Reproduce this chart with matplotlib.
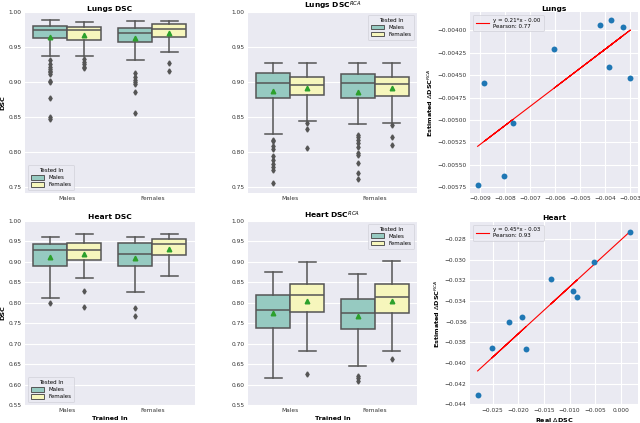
import matplotlib
matplotlib.use("Agg")
import matplotlib.pyplot as plt
import numpy as np
from matplotlib.patches import Patch
from matplotlib.ticker import MultipleLocator

# ---------------- data ----------------
trained_in = ["Males", "Females"]
tested_in = ["Males", "Females"]
# order of boxes: (trained M, tested M), (trained M, tested F), (trained F, tested M), (trained F, tested F)

# Lungs DSC
lungs_whislo = [0.9376, 0.9376, 0.9315, 0.9430]
lungs_q1 = [0.9627, 0.9600, 0.9580, 0.9650]
lungs_med = [0.9740, 0.9740, 0.9707, 0.9754]
lungs_q3 = [0.9802, 0.9790, 0.9778, 0.9825]
lungs_whishi = [0.9887, 0.9863, 0.9870, 0.9880]
lungs_mean = [0.9646, 0.9680, 0.9630, 0.9707]
lungs_fliers = [
    [0.932, 0.926, 0.922, 0.919, 0.916, 0.914, 0.912, 0.902, 0.900, 0.878, 0.851, 0.848],
    [0.933, 0.929, 0.926, 0.922, 0.921],
    [0.9126, 0.908, 0.9036, 0.9008, 0.8975, 0.8857, 0.8563],
    [0.9282, 0.9164],
]

# Lungs DSC^RCA
lungs_rca_whislo = [0.8266, 0.8445, 0.8407, 0.8417]
lungs_rca_q1 = [0.8776, 0.8814, 0.8770, 0.8804]
lungs_rca_med = [0.8989, 0.8960, 0.8993, 0.8980]
lungs_rca_q3 = [0.9126, 0.9074, 0.9116, 0.9070]
lungs_rca_whishi = [0.9280, 0.9280, 0.9280, 0.9280]
lungs_rca_mean = [0.8880, 0.8913, 0.8866, 0.8918]
lungs_rca_fliers = [
    [0.818, 0.8157, 0.809, 0.8044, 0.795, 0.7888, 0.783, 0.7793, 0.7746, 0.757],
    [0.842, 0.8327, 0.806],
    [0.825, 0.8218, 0.817, 0.8133, 0.8077, 0.7996, 0.7968, 0.785, 0.7708, 0.7618],
    [0.8384, 0.8218, 0.810],
]

# Heart DSC
heart_whislo = [0.8125, 0.8598, 0.8255, 0.8663]
heart_q1 = [0.8908, 0.9046, 0.8900, 0.9168]
heart_med = [0.9290, 0.9290, 0.9193, 0.9437]
heart_q3 = [0.9437, 0.9470, 0.9454, 0.9552]
heart_whishi = [0.9617, 0.9674, 0.9617, 0.9674]
heart_mean = [0.9128, 0.9193, 0.9103, 0.9323]
heart_fliers = [
    [0.8003],
    [0.8288, 0.7905],
    [0.7864, 0.7685],
    [],
]

# Heart DSC^RCA
heart_rca_whislo = [0.6169, 0.6821, 0.6454, 0.6829]
heart_rca_q1 = [0.7375, 0.7766, 0.7359, 0.7758]
heart_rca_med = [0.7823, 0.8190, 0.7742, 0.8133]
heart_rca_q3 = [0.8190, 0.8451, 0.8084, 0.8451]
heart_rca_whishi = [0.8761, 0.9005, 0.8704, 0.9022]
heart_rca_mean = [0.7742, 0.8044, 0.7677, 0.8052]
heart_rca_fliers = [
    [],
    [0.6258],
    [0.6218, 0.6152, 0.6095],
    [0.6617],
]

# Scatter: Real vs Estimated delta DSC
lungs_real = [-0.003743, -0.004206, -0.003269, -0.006036, -0.003838,
              -0.002980, -0.008842, -0.007696, -0.008040, -0.009107]
lungs_est = [-0.00389, -0.00394, -0.00396, -0.004206, -0.004404,
             -0.004529, -0.004587, -0.005028, -0.005619, -0.005722]
heart_real = [0.00187, -0.00525, -0.01371, -0.00935, -0.00852,
              -0.01935, -0.02173, -0.02519, -0.01852, -0.02794]
heart_est = [-0.02733, -0.03020, -0.03184, -0.03300, -0.03361,
             -0.03558, -0.03600, -0.03858, -0.03868, -0.04316]
heart_est_limits = [-0.04408, -0.02633]

# ---------------- style ----------------
BG = "#EAEAF2"
EDGE = "#555555"
C_MALE = "#96cac1"
C_FEM = "#f6f6bc"
FS_TICK = 4.2
FS_LEG = 4.0
FS_LAB = 4.6
FS_TITLE = 5.4

plt.rcParams["font.family"] = ["DejaVu Sans"]

fig = plt.figure(figsize=(6.4, 4.23), dpi=100)


def style_ax(ax):
    ax.set_facecolor(BG)
    for s in ax.spines.values():
        s.set_visible(False)
    ax.set_axisbelow(True)
    ax.grid(True, color="white", linewidth=0.8)
    ax.tick_params(length=0, labelsize=FS_TICK, colors="#333333", pad=2.5)


def box_panel(rect, whislo, q1, med, q3, whishi, mean, fliers, title,
              ylim, ystep, legend_loc, xlabel=None, ylabel=None):
    ax = fig.add_axes(rect)
    style_ax(ax)
    ax.xaxis.grid(False)
    stats = []
    for i in range(4):
        stats.append(dict(whislo=whislo[i], q1=q1[i], med=med[i], q3=q3[i],
                          whishi=whishi[i], mean=mean[i],
                          fliers=np.array(fliers[i], dtype=float)))
    positions = [-0.2, 0.2, 0.8, 1.2]
    bp = ax.bxp(stats, positions=positions, widths=0.4, patch_artist=True,
                showmeans=True,
                boxprops=dict(linewidth=1.1, edgecolor=EDGE),
                medianprops=dict(color=EDGE, linewidth=1.1),
                whiskerprops=dict(color=EDGE, linewidth=1.1),
                capprops=dict(color=EDGE, linewidth=1.1),
                flierprops=dict(marker="d", markerfacecolor=EDGE,
                                markeredgecolor=EDGE, markersize=2.6),
                meanprops=dict(marker="^", markerfacecolor="#2ca02c",
                               markeredgecolor="#2ca02c", markersize=3.3))
    for i, patch in enumerate(bp["boxes"]):
        patch.set_facecolor(C_MALE if i % 2 == 0 else C_FEM)
    ax.set_xticks([0, 1])
    ax.set_xticklabels(trained_in)
    ax.set_xlim(-0.5, 1.5)
    ax.set_ylim(*ylim)
    ax.yaxis.set_major_locator(MultipleLocator(ystep))
    ax.yaxis.set_major_formatter(matplotlib.ticker.FormatStrFormatter("%.2f"))
    ax.set_title(title, fontsize=FS_TITLE, fontweight="bold", pad=1.2)
    if xlabel:
        ax.set_xlabel(xlabel, fontsize=FS_LAB, fontweight="bold", labelpad=2)
    if ylabel:
        ax.set_ylabel(ylabel, fontsize=FS_LAB, fontweight="bold", labelpad=2)
    handles = [Patch(facecolor=C_MALE, edgecolor=EDGE, linewidth=0.7, label=tested_in[0]),
               Patch(facecolor=C_FEM, edgecolor=EDGE, linewidth=0.7, label=tested_in[1])]
    leg = ax.legend(handles=handles, title="Tested In", loc=legend_loc,
                    fontsize=FS_LEG, title_fontsize=FS_LEG, frameon=True,
                    handlelength=2.4, handleheight=0.9, borderpad=0.5,
                    labelspacing=0.35)
    leg.get_frame().set_facecolor(BG)
    leg.get_frame().set_edgecolor("#d0d0d8")
    leg.get_frame().set_linewidth(0.6)
    return ax


def scatter_panel(rect, x, y, title, ystep, xstep, yfmt, xlabel=None, ylim=None):
    ax = fig.add_axes(rect)
    style_ax(ax)
    x = np.asarray(x)
    y = np.asarray(y)
    ax.scatter(x, y, s=18, color="#1f77b4", zorder=3, linewidths=0)
    m, b = np.polyfit(x, y, 1)
    r = np.corrcoef(x, y)[0, 1]
    sign = "-" if b < 0 else "+"
    ax.plot(x, m * x + b, color="red", linewidth=0.8, zorder=2,
            label=f"y = {m:.2f}*x {sign} {abs(b):.2f}\nPearson: {r:.2f}")
    ax.yaxis.set_major_locator(MultipleLocator(ystep))
    ax.xaxis.set_major_locator(MultipleLocator(xstep))
    ax.yaxis.set_major_formatter(matplotlib.ticker.StrMethodFormatter(yfmt))
    if ylim is not None:
        ax.set_ylim(*ylim)
    ax.set_title(title, fontsize=FS_TITLE, fontweight="bold", pad=1.2)
    ax.set_ylabel("Estimated $\\Delta$DSC$^{RCA}$", fontsize=FS_LAB,
                  fontweight="bold", labelpad=2)
    if xlabel:
        ax.set_xlabel(xlabel, fontsize=FS_LAB, fontweight="bold", labelpad=2)
    leg = ax.legend(loc="upper left", fontsize=FS_LEG, frameon=True,
                    handlelength=2.4, borderpad=0.5)
    leg.get_frame().set_facecolor(BG)
    leg.get_frame().set_edgecolor("#d0d0d8")
    leg.get_frame().set_linewidth(0.6)
    return ax


TOP_B = 0.5437
TOP_H = 0.4275

box_panel([0.039, TOP_B, 0.2656, TOP_H], lungs_whislo, lungs_q1, lungs_med,
          lungs_q3, lungs_whishi, lungs_mean, lungs_fliers, "Lungs DSC",
          (0.742, 1.0), 0.05, "lower left", ylabel="DSC")
box_panel([0.3875, TOP_B, 0.2641, TOP_H], lungs_rca_whislo, lungs_rca_q1,
          lungs_rca_med, lungs_rca_q3, lungs_rca_whishi, lungs_rca_mean,
          lungs_rca_fliers, "Lungs DSC$^{RCA}$", (0.742, 1.0), 0.05, "upper right")
box_panel([0.039, 0.0426, 0.2656, 0.435], heart_whislo, heart_q1, heart_med,
          heart_q3, heart_whishi, heart_mean, heart_fliers, "Heart DSC",
          (0.55, 1.0), 0.05, "lower left", xlabel="Trained In", ylabel="DSC")
box_panel([0.3875, 0.0426, 0.2641, 0.435], heart_rca_whislo, heart_rca_q1,
          heart_rca_med, heart_rca_q3, heart_rca_whishi, heart_rca_mean,
          heart_rca_fliers, "Heart DSC$^{RCA}$", (0.55, 1.0), 0.05,
          "upper right", xlabel="Trained In")

scatter_panel([0.7344, TOP_B, 0.2625, TOP_H], lungs_real, lungs_est, "Lungs",
              0.00025, 0.001, "{x:.5f}")
scatter_panel([0.7344, 0.0426, 0.2625, 0.433], heart_real, heart_est, "Heart",
              0.002, 0.005, "{x:.3f}", xlabel="Real $\\Delta$DSC",
              ylim=heart_est_limits)

fig.savefig("out.png", dpi=100)
